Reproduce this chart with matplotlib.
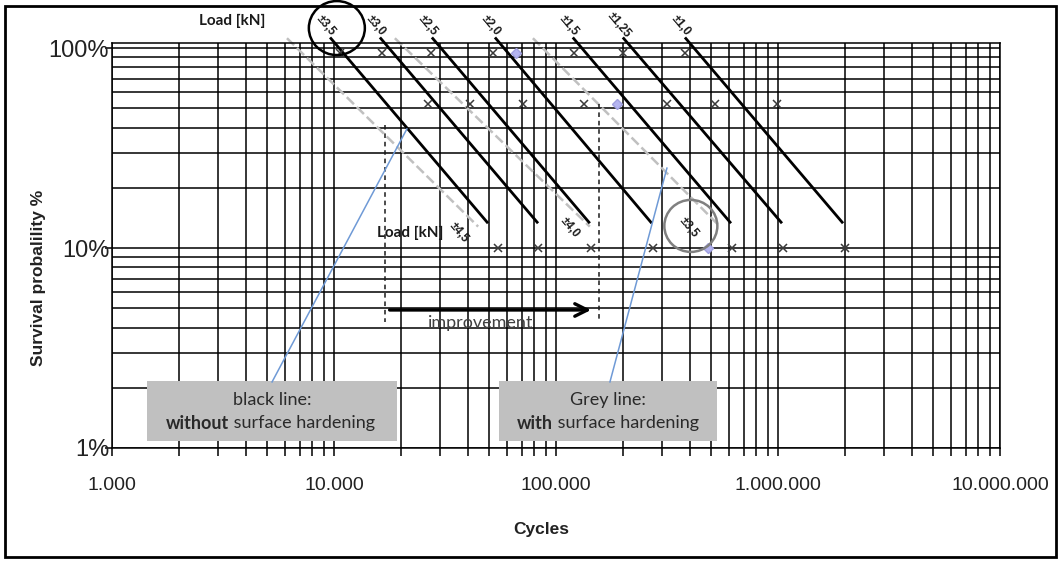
import numpy as np
import matplotlib
matplotlib.use("Agg")
import matplotlib.pyplot as plt
from matplotlib.patches import Rectangle, Ellipse
from matplotlib.transforms import ScaledTranslation
from matplotlib.ticker import FixedLocator, FuncFormatter, LogLocator, NullFormatter

plt.rcParams['font.family'] = ['Liberation Sans', 'DejaVu Sans']

# --- S-N survival lines (cycles vs survival probability) ---
black_loads = ['±3,5', '±3,0', '±2,5', '±2,0', '±1,5', '±1,25', '±1,0']
black_n_top = [9600, 16100, 27600, 53100, 119000, 200000, 381000]
black_n_bottom = [49400, 83000, 142000, 270000, 614000, 1042000, 1963000]
black_p = [113, 13.3]

grey_loads = ['±4,5', '±4,0', '±3,5']
grey_n_top = [6140, 18800, 78700]
grey_n_bottom = [44600, 142000, 548000]
grey_p = [112, 12.8]
grey_label_n = [36600, 115600, 397000]
grey_label_p = [11.9, 12.7, 12.7]

# test points
mark_p = [94, 52.5, 10]
mark_n_94 = [10640, 16440, 27350, 52000, 120500, 200500, 381000]
mark_n_52 = [26500, 41000, 71000, 133600, 316000, 520000, 989000]
mark_n_10 = [54800, 83000, 143800, 273600, 621000, 1055000, 2004000]
diamond_n = [66100, 188400, 484000]
diamond_p = [94, 52.5, 10]

# improvement marker lines
shift_n = [17000, 156000]
shift_p_top = [41.2, 52.5]
shift_p_bottom = 4.27
arrow_n = [17300, 148000]
arrow_p = 4.9

# pointer lines from the legend boxes
pointer1_n = [5260, 21300]
pointer1_p = [2.14, 39.4]
pointer2_n = [175000, 316000]
pointer2_p = [2.14, 25.1]

xticks = [1e3, 1e4, 1e5, 1e6, 1e7]
yticks = [1, 10, 100]

fig = plt.figure(figsize=(10.61, 5.63), dpi=100)
ax = fig.add_axes([112 / 1061, 1 - 448 / 563, 888 / 1061, 405 / 563])
ax.set_xscale('log')
ax.set_yscale('log')
ax.set_xlim(1e3, 1e7)
ax.set_ylim(1, 106)
ax.set_axisbelow(True)

ax.xaxis.set_major_locator(FixedLocator(xticks))
ax.xaxis.set_minor_locator(LogLocator(base=10, subs=np.arange(2, 10)))
ax.xaxis.set_minor_formatter(NullFormatter())
ax.xaxis.set_major_formatter(FuncFormatter(lambda v, _: f"{int(round(v)):,}".replace(',', '.')))
ax.yaxis.set_major_locator(FixedLocator(yticks))
ax.yaxis.set_minor_locator(LogLocator(base=10, subs=np.arange(2, 10)))
ax.yaxis.set_minor_formatter(NullFormatter())
ax.yaxis.set_major_formatter(FuncFormatter(lambda v, _: f"{int(round(v))}%"))

ax.grid(True, which='both', color='black', lw=1.1)
for s in ax.spines.values():
    s.set_color('black')
    s.set_linewidth(1.1)

ax.tick_params(axis='x', which='both', direction='out', length=6, width=1.1,
               labelsize=14, pad=15, colors='black', labelcolor='#222222')
ax.tick_params(axis='y', which='major', direction='out', length=5, width=1.1,
               labelsize=17, pad=-3, labelcolor='#222222')
ax.tick_params(axis='y', which='minor', length=0)

ax.set_xlabel('Cycles', fontsize=12.5, fontweight='bold', color='#222222')
ax.xaxis.set_label_coords(0.483, -0.183)
ax.set_ylabel('Survival probalility %', fontsize=12.5, fontweight='bold', color='#222222')
ax.yaxis.set_label_coords(-0.074, 0.42)

# legend boxes
box_kw = dict(facecolor='#c0c0c0', edgecolor='none', zorder=1)
ax.add_patch(Rectangle((1438, 1.084), 19270 - 1438, 2.16 - 1.084, **box_kw))
ax.add_patch(Rectangle((55300, 1.084), 531000 - 55300, 2.16 - 1.084, **box_kw))

lato = ['Lato', 'DejaVu Sans']
txt_kw = dict(fontsize=13, color='#2a2a2a', family=lato, zorder=6, va='center')
ax.text(5260, 1.74, 'black line:', ha='center', **txt_kw)
ax.text(3365, 1.33, 'without', ha='right', fontweight='bold', **txt_kw)
ax.text(3365, 1.33, ' surface hardening', ha='left', **txt_kw)
ax.text(171000, 1.74, 'Grey line:', ha='center', **txt_kw)
ax.text(97000, 1.33, 'with', ha='right', fontweight='bold', **txt_kw)
ax.text(97000, 1.33, ' surface hardening', ha='left', **txt_kw)

# grey dashed lines (with surface hardening)
for n0, n1 in zip(grey_n_top, grey_n_bottom):
    ax.plot([n0, n1], grey_p, color='#c0c0c0', lw=1.8, ls=(0, (4, 1.6)),
            zorder=2, clip_on=False)

# black lines (without surface hardening)
for n0, n1, lab in zip(black_n_top, black_n_bottom, black_loads):
    ax.plot([n0, n1], black_p, color='black', lw=2.0, zorder=3,
            clip_on=False, solid_capstyle='butt')
    ax.annotate(lab, xy=(n0, black_p[0]), xytext=(-3, 8.6), textcoords='offset points',
                rotation=-50, ha='center', va='center', fontsize=8.5,
                fontweight='bold', color='#1a1a1a', annotation_clip=False, zorder=6)

for n, p, lab in zip(grey_label_n, grey_label_p, grey_loads):
    ax.text(n, p, lab, rotation=-50, ha='center', va='center', fontsize=8.5,
            fontweight='bold', color='#1a1a1a', zorder=6)

# test points
for row, p in zip([mark_n_94, mark_n_52, mark_n_10], mark_p):
    ax.plot(row, [p] * len(row), ls='none', marker='x', ms=6, mew=1.1,
            color='#3a3a3a', zorder=4)
ax.plot(diamond_n, diamond_p, ls='none', marker='D', ms=5, color='#b4b4f0',
        mec='#a0a0e0', zorder=4)

# pointer lines
ax.plot(pointer1_n, pointer1_p, color='#6f9ad6', lw=1.1, zorder=5)
ax.plot(pointer2_n, pointer2_p, color='#6f9ad6', lw=1.1, zorder=5)

# improvement shift
for n, pt in zip(shift_n, shift_p_top):
    ax.plot([n, n], [pt, shift_p_bottom], color='#1a1a1a', lw=1.1,
            ls=(0, (3, 2.5)), zorder=4)
ax.annotate('', xy=(arrow_n[1], arrow_p), xytext=(arrow_n[0], arrow_p),
            arrowprops=dict(arrowstyle='->,head_length=0.9,head_width=0.45',
                            color='black', lw=2.4), zorder=5)
ax.text(46000, 4.2, 'improvement', ha='center', va='center', fontsize=13,
        family=lato, color='#404040', zorder=5)

# load captions
ax.text(22000, 11.9, 'Load [kN]', ha='center', va='center', fontsize=11,
        fontweight='bold', family=lato, color='#1a1a1a', zorder=6)
ax.annotate('Load [kN]', xy=(232 / 1061, 1 - 21 / 563), xycoords='figure fraction',
            ha='center', va='center', fontsize=11, fontweight='bold',
            family=lato, color='#1a1a1a')

# highlight circles
def circle(n, p, w, h, color):
    tr = fig.dpi_scale_trans + ScaledTranslation(n, p, ax.transData)
    ax.add_artist(Ellipse((0, 0), w, h, transform=tr, fill=False,
                          edgecolor=color, lw=1.8, clip_on=False, zorder=7))

circle(10300, 125.9, 0.56, 0.54, 'black')
circle(405000, 12.9, 0.53, 0.52, '#808080')

# outer frame
fig.add_artist(Rectangle((0.005, 0.01), 0.99, 0.98, transform=fig.transFigure,
                         fill=False, edgecolor='black', lw=2))

fig.savefig('out.png', dpi=100)
